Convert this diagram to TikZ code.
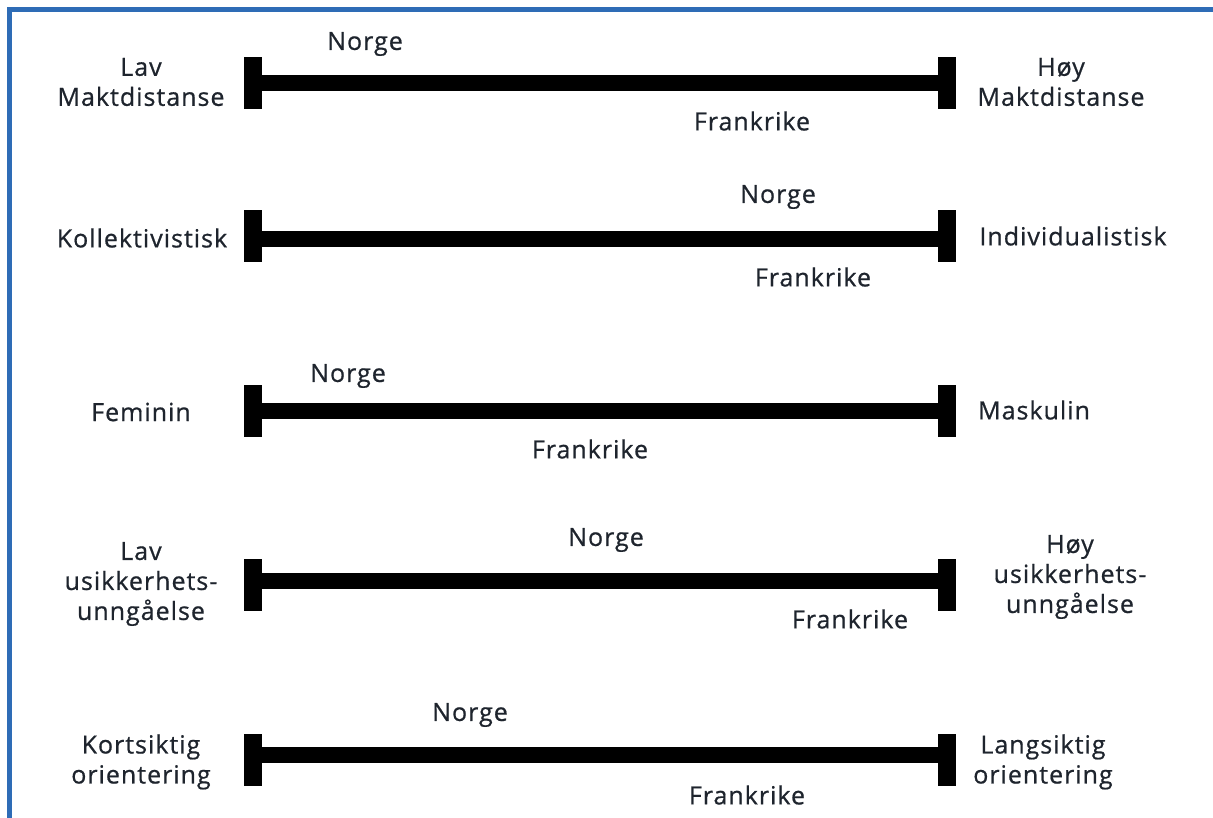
\documentclass[tikz,border=0pt]{standalone}
\usepackage{fontspec}
\setmainfont{Open Sans}[FakeBold=0.7,LetterSpace=4]
\definecolor{frameblue}{RGB}{46,108,182}
\definecolor{ink}{RGB}{30,36,45}
\begin{document}
\begin{tikzpicture}[x=1pt,y=-1pt,
  endcap/.style={fill=black,draw=none,minimum width=18pt,minimum height=52pt,inner sep=0pt,outer sep=0pt},
  bar/.style={line width=16pt,black},
  lbl/.style={text=ink,font=\fontsize{25}{30}\selectfont,align=center,inner sep=0pt},
  ]
\useasboundingbox (0,0) rectangle (1213,818);
% frame edges
\fill[frameblue] (7,7) rectangle (1213,12);
\fill[frameblue] (7,7) rectangle (12,818);

% scale 1: power distance
\node[endcap] (L1) at (253,83) {};
\node[endcap] (R1) at (946.5,83) {};
\draw[bar] (L1.center) -- (R1.center);
\node[lbl] (l1) at (141,82) {Lav\\Maktdistanse};
\node[lbl] (r1) at (1061,82) {Høy\\Maktdistanse};
\node[lbl] (n1) at (365,44) {Norge};
\node[lbl] (f1) at (752,121) {Frankrike};

% scale 2: individualism
\node[endcap] (L2) at (253,236) {};
\node[endcap] (R2) at (946.5,236) {};
\draw[bar] ([yshift=-3pt]L2.center) -- ([yshift=-3pt]R2.center);
\node[lbl] (l2) at (142,238) {Kollektivistisk};
\node[lbl] (r2) at (1073,236) {Individualistisk};
\node[lbl] (n2) at (778,197) {Norge};
\node[lbl] (f2) at (813,277) {Frankrike};

% scale 3: masculinity
\node[endcap] (L3) at (253,411) {};
\node[endcap] (R3) at (946.5,411) {};
\draw[bar] (L3.center) -- (R3.center);
\node[lbl] (l3) at (141,412) {Feminin};
\node[lbl] (r3) at (1034,410) {Maskulin};
\node[lbl] (n3) at (348,376) {Norge};
\node[lbl] (f3) at (590,449) {Frankrike};

% scale 4: uncertainty avoidance
\node[endcap] (L4) at (253,585) {};
\node[endcap] (R4) at (946.5,585) {};
\draw[bar] ([yshift=4pt]L4.center) -- ([yshift=4pt]R4.center);
\node[lbl] (l4) at (141,584) {Lav\\usikkerhets-\\unngåelse};
\node[lbl] (r4) at (1070,577) {Høy\\usikkerhets-\\unngåelse};
\node[lbl] (n4) at (606,540) {Norge};
\node[lbl] (f4) at (850,619) {Frankrike};

% scale 5: long-term orientation
\node[endcap] (L5) at (253,760) {};
\node[endcap] (R5) at (946.5,760) {};
\draw[bar] ([yshift=5pt]L5.center) -- ([yshift=5pt]R5.center);
\node[lbl] (l5) at (141,762) {Kortsiktig\\orientering};
\node[lbl] (r5) at (1043,762) {Langsiktig\\orientering};
\node[lbl] (n5) at (470,715) {Norge};
\node[lbl] (f5) at (747,795) {Frankrike};
\end{tikzpicture}
\end{document}
